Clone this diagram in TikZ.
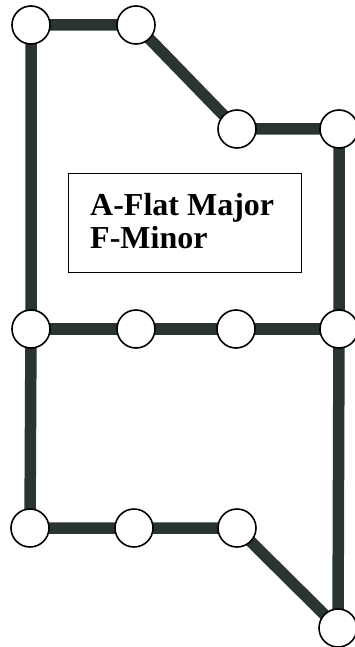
\documentclass[tikz,border=0pt]{standalone}
\usepackage{fontspec}
\setmainfont{Liberation Serif}
\usetikzlibrary{backgrounds}
\definecolor{barcol}{RGB}{42,52,48}
\tikzset{
  station/.style={circle, draw=black, line width=1.6pt, fill=white, minimum size=38pt, inner sep=0pt},
  bar/.style={draw=barcol, line width=11.5pt},
  keybox/.style={rectangle, draw=black, line width=1.3pt, fill=white, anchor=north west, minimum width=233pt, minimum height=99pt, inner sep=0pt},
  keytext/.style={anchor=base west, inner sep=0pt, font=\fontsize{32pt}{33pt}\selectfont\bfseries}
}
\begin{document}
\begin{tikzpicture}[x=1pt,y=-1pt]
\useasboundingbox (0,0) rectangle (355,647);
\node[station] (n1) at (31,25) {};
\node[station] (n2) at (136,25) {};
\node[station] (n3) at (237,129) {};
\node[station] (n4) at (339,129) {};
\node[station] (n5) at (31,329) {};
\node[station] (n6) at (136,329) {};
\node[station] (n7) at (236,329) {};
\node[station] (n8) at (339,329) {};
\node[station] (n9) at (30,528) {};
\node[station] (n10) at (134,528) {};
\node[station] (n11) at (237,528) {};
\node[station] (n12) at (338,628) {};
\node[keybox] (box) at (68,173) {};
\node[keytext] (t1) at (90,215) {A-Flat Major};
\node[keytext] (t2) at (90,248) {F-Minor};
\begin{pgfonlayer}{background}
\draw[bar] (n1.center) -- (n2.center) -- (n3.center) -- (n4.center) -- (n8.center) -- (n12.center) -- (n11.center) -- (n10.center) -- (n9.center) -- (n5.center) -- (n1.center);
\draw[bar] (n5.center) -- (n6.center) -- (n7.center) -- (n8.center);
\end{pgfonlayer}
\end{tikzpicture}
\end{document}
